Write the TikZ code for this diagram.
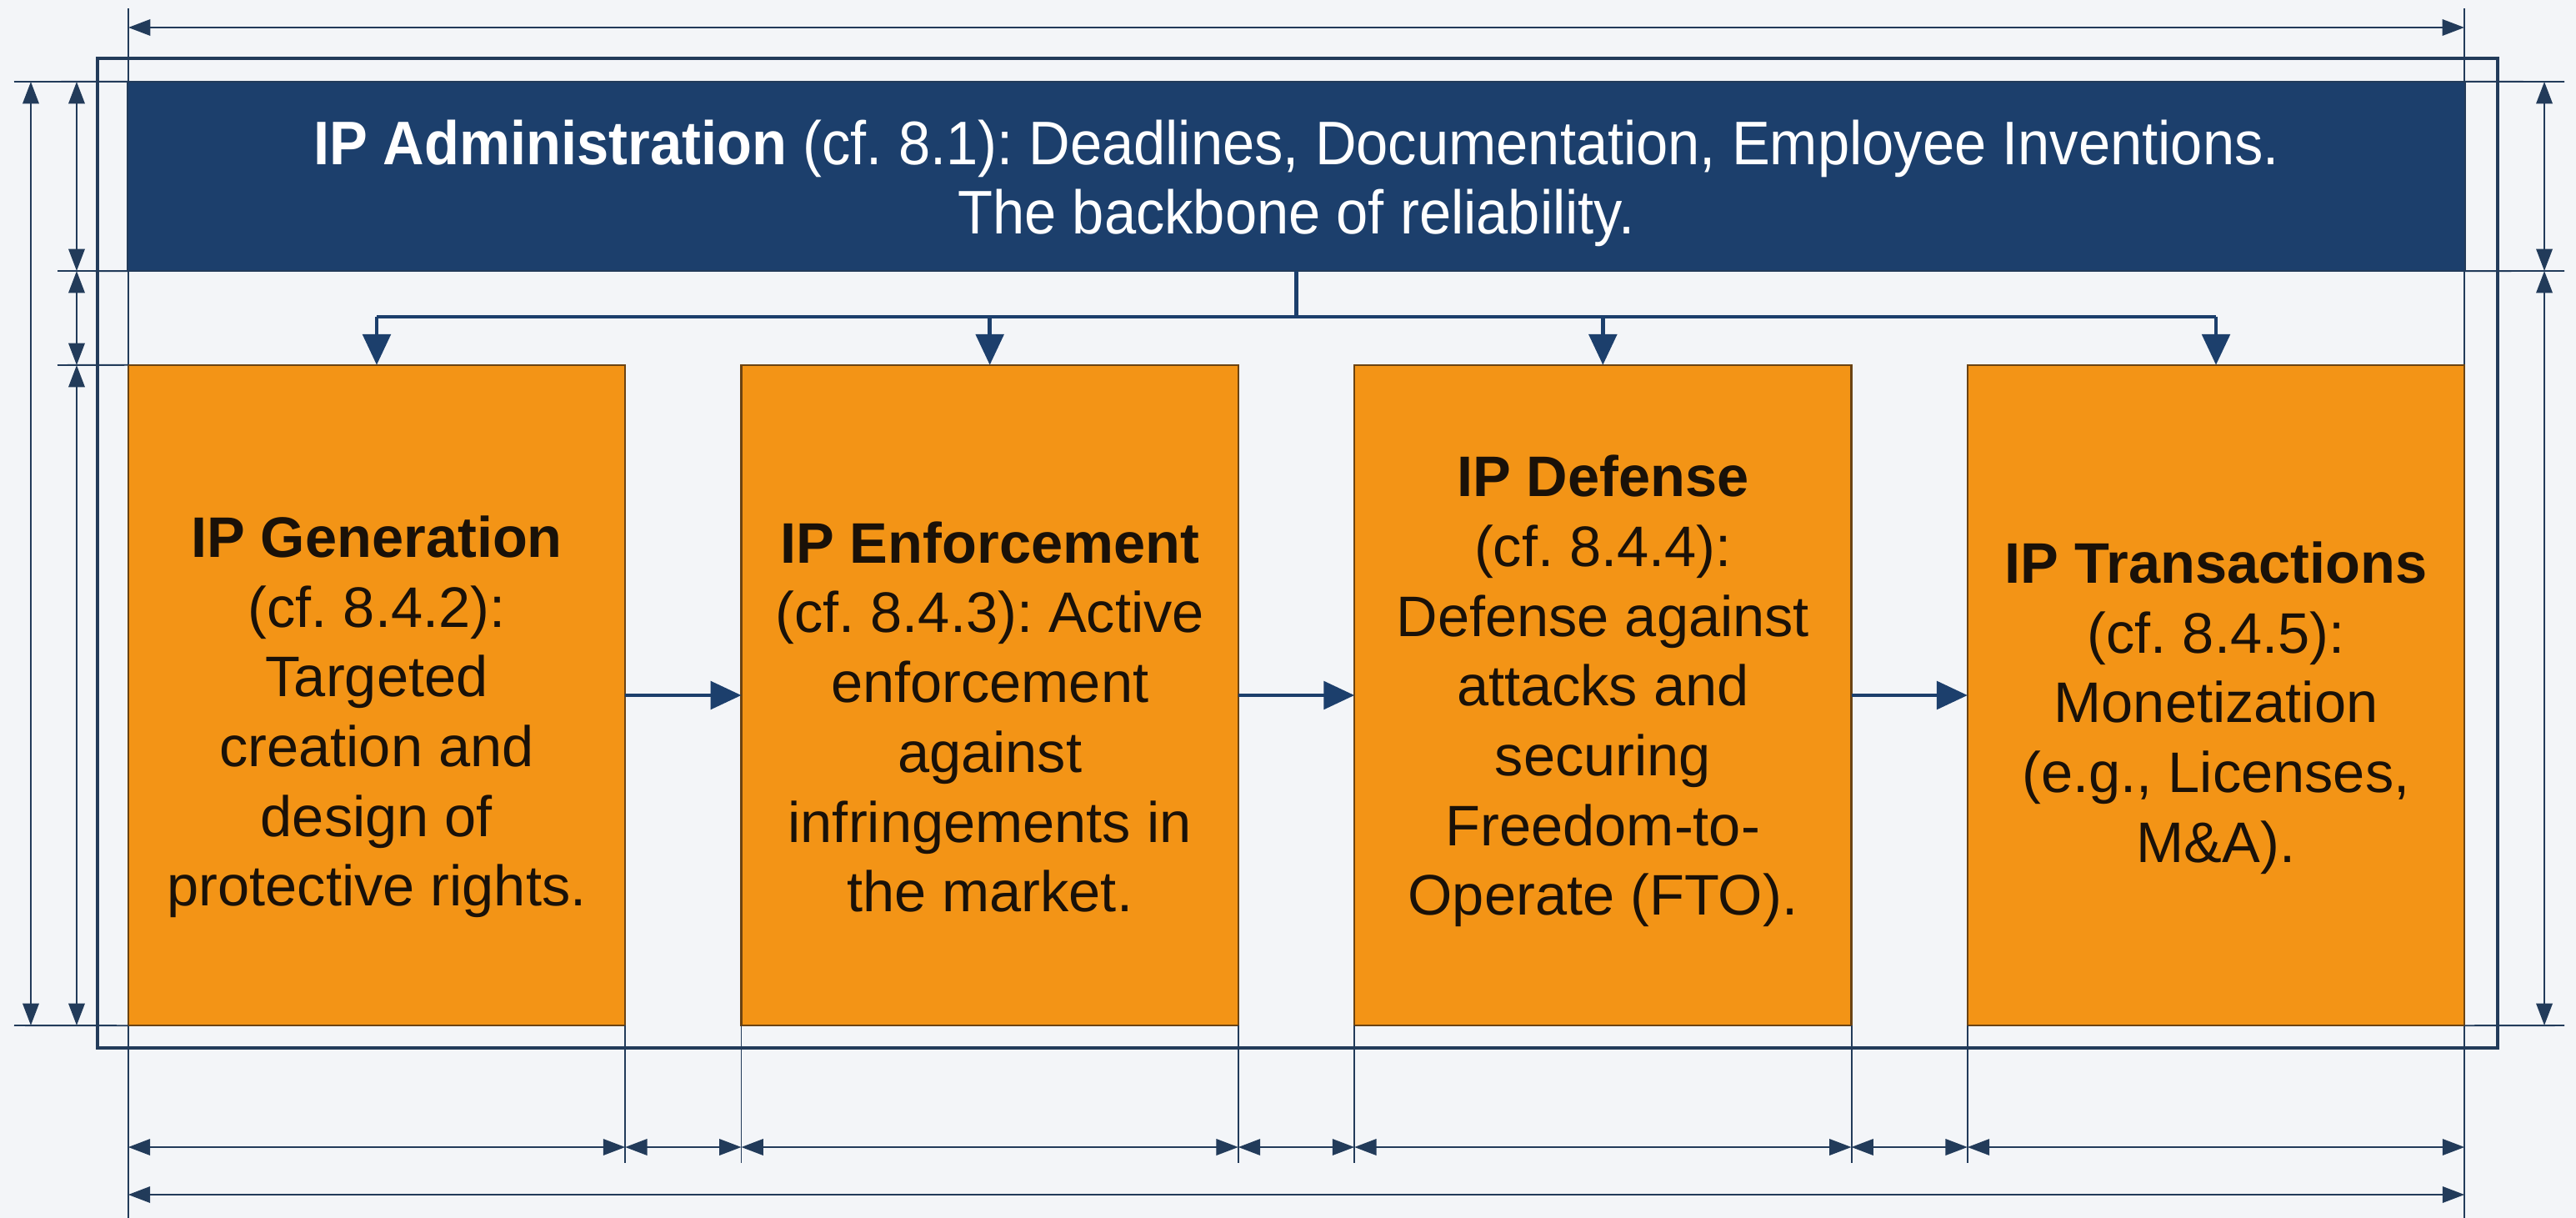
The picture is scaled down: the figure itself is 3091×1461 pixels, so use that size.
\documentclass[tikz,border=0pt]{standalone}
\usepackage{fontspec}
\setmainfont{Liberation Sans}
\newfontfamily\titlefont[FakeStretch=0.93]{Liberation Sans}
\usetikzlibrary{arrows.meta,calc}

\definecolor{navy}{HTML}{1C3F6C}
\definecolor{linecol}{HTML}{223B5A}
\definecolor{orangefill}{HTML}{F39416}
\definecolor{orangeedge}{HTML}{6B4312}
\definecolor{paper}{HTML}{F3F5F8}
\definecolor{inktext}{HTML}{1A1108}

\tikzset{
  bluebox/.style={draw=linecol, line width=0.6pt, fill=navy,
    minimum width=28.03cm, minimum height=2.27cm, inner sep=0pt, outer sep=0pt},
  bluetext/.style={text=white, align=center, inner sep=0pt,
    font=\titlefont\fontsize{21pt}{23.6pt}\selectfont\frenchspacing},
  orangebox/.style={draw=orangeedge, line width=0.6pt, fill=orangefill,
    minimum width=5.96cm, minimum height=7.92cm, inner sep=0pt, outer sep=0pt},
  boxtext/.style={text=inktext, align=center, inner sep=0pt,
    font=\fontsize{19.5pt}{23.8pt}\selectfont\frenchspacing},
  conn/.style={draw=navy, line width=1.3pt},
  connarrow/.style={conn, -{Triangle[length=10.5pt,width=9.5pt]}},
  dimline/.style={draw=linecol, line width=0.7pt,
    {Triangle[length=7.5pt,width=5.5pt]}-{Triangle[length=7.5pt,width=5.5pt]}},
  extline/.style={draw=linecol, line width=0.55pt},
  outerframe/.style={draw=linecol, line width=1.3pt},
}

\begin{document}
\begin{tikzpicture}[x=0.01cm, y=-0.01cm]
  % page background
  \fill[paper] (0,0) rectangle (3091,1461);
  \useasboundingbox (0,0) rectangle (3091,1461);

  % extension lines of the outer edges
  \draw[extline] (154,10) -- (154,1461);
  \draw[extline] (2957,10) -- (2957,1461);

  % outer frame
  \draw[outerframe] (117,70) rectangle (2997,1257);

  % administration bar
  \node[bluebox] (admin) at (1555.5,211.5) {};
  \node[bluetext] (admintext) at (1555.5,220)
    {\textbf{IP Administration} (cf. 8.1): Deadlines, Documentation, Employee Inventions.\\
     The backbone of reliability.};

  % the four fields
  \node[orangebox] (gen)   at (452,834) {};
  \node[orangebox] (enf)   at (1187.67,834) {};
  \node[orangebox] (def)   at (1923.33,834) {};
  \node[orangebox] (trans) at (2659,834) {};

  \node[boxtext] (gentext) at (452,860)
    {\textbf{IP Generation}\\(cf. 8.4.2):\\Targeted\\creation and\\design of\\protective rights.};
  \node[boxtext] (enftext) at (1187.67,860)
    {\textbf{IP Enforcement}\\(cf. 8.4.3): Active\\enforcement\\against\\infringements in\\the market.};
  \node[boxtext] (deftext) at (1923.33,829)
    {\textbf{IP Defense}\\(cf. 8.4.4):\\Defense against\\attacks and\\securing\\Freedom-to-\\Operate (FTO).};
  \node[boxtext] (transtext) at (2659,849)
    {\textbf{IP Transactions}\\(cf. 8.4.5):\\Monetization\\(e.g., Licenses,\\M\&A).};

  % distribution from the administration bar
  \draw[conn] (admin.south) -- ++(0,55) coordinate (bus);
  \draw[conn] (gen.north |- bus) -- (trans.north |- bus);
  \foreach \b in {gen,enf,def,trans}
    \draw[connarrow] (\b.north |- bus) -- (\b.north);

  % flow between the fields
  \draw[connarrow] (gen.east) -- (enf.west);
  \draw[connarrow] (enf.east) -- (def.west);
  \draw[connarrow] (def.east) -- (trans.west);

  % top dimension
  \draw[dimline] (154,33) -- (2957,33);

  % left extension lines and dimensions
  \draw[extline] (17,98) -- (admin.north west);
  \draw[extline] (69,325) -- (admin.south west);
  \draw[extline] (69,438) -- (gen.north west);
  \draw[extline] (17,1230) -- (gen.south west);
  \draw[dimline] (37,98) -- (37,1230);
  \draw[dimline] (92,98) -- (92,325);
  \draw[dimline] (92,325) -- (92,438);
  \draw[dimline] (92,438) -- (92,1230);

  % right extension lines and dimensions
  \draw[extline] (admin.north east) -- (3077,98);
  \draw[extline] (admin.south east) -- (3077,325);
  \draw[extline] (trans.south east) -- (3077,1230);
  \draw[dimline] (3053,98) -- (3053,325);
  \draw[dimline] (3053,325) -- (3053,1230);

  % bottom extension lines of the inner edges
  \foreach \b in {gen,enf,def} \draw[extline] (\b.south east) -- (\b.south east |- 0,1395);
  \foreach \b in {enf,def,trans} \draw[extline] (\b.south west) -- (\b.south west |- 0,1395);

  % bottom dimensions
  \coordinate (row1) at (0,1376);
  \coordinate (row2) at (0,1433);
  \draw[dimline] (gen.west |- row1) -- (gen.east |- row1);
  \draw[dimline] (gen.east |- row1) -- (enf.west |- row1);
  \draw[dimline] (enf.west |- row1) -- (enf.east |- row1);
  \draw[dimline] (enf.east |- row1) -- (def.west |- row1);
  \draw[dimline] (def.west |- row1) -- (def.east |- row1);
  \draw[dimline] (def.east |- row1) -- (trans.west |- row1);
  \draw[dimline] (trans.west |- row1) -- (trans.east |- row1);
  \draw[dimline] (gen.west |- row2) -- (trans.east |- row2);
\end{tikzpicture}
\end{document}
